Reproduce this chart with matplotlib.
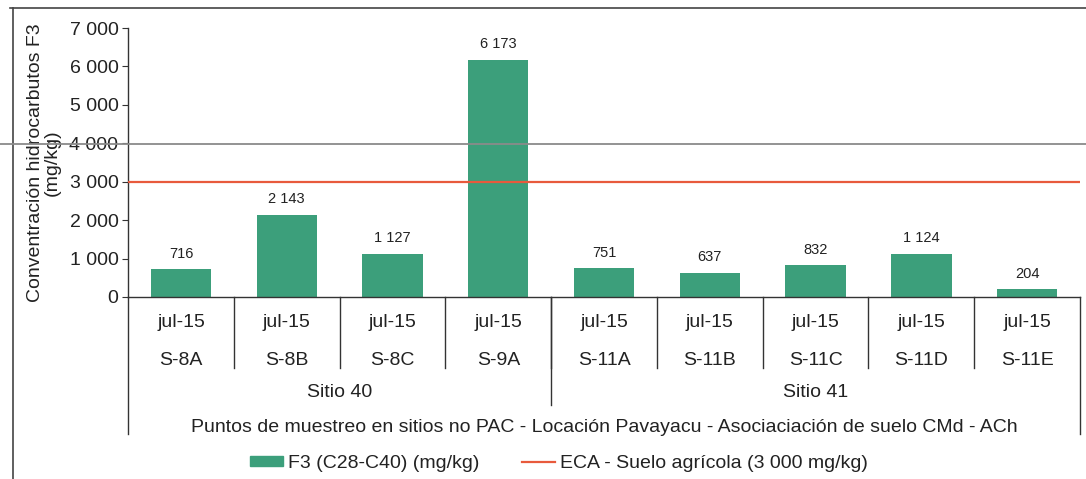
#!/usr/bin/env python3
"""F3 hydrocarbon concentration per sampling point, Pavayacu."""

from matplotlib import pyplot as plt
from matplotlib.lines import Line2D
from matplotlib.patches import Patch
from matplotlib.transforms import blended_transform_factory

DATES = ["jul-15"] * 9
POINTS = ["S-8A", "S-8B", "S-8C", "S-9A", "S-11A", "S-11B", "S-11C", "S-11D", "S-11E"]
VALUES = [716, 2143, 1127, 6173, 751, 637, 832, 1124, 204]
SITES = ["Sitio 40", "Sitio 41"]
SITE_SIZES = [4, 5]
ECA_LIMIT = 3000

BAR_COLOR = "#3c9f7b"
LINE_COLOR = "#e85a3c"
TEXT_COLOR = "#222222"
EDGE = "#333333"
FS = 14


def fmt(v):
    return f"{v:,}".replace(",", " ")


def main():
    plt.rcParams.update({"font.family": ["Liberation Sans", "DejaVu Sans"]})

    fig = plt.figure(figsize=(10.86, 4.79), dpi=100)
    ax = fig.add_axes([0.118, 0.380, 0.8765, 0.5615])

    x = list(range(len(VALUES)))
    ax.bar(x, VALUES, width=0.57, color=BAR_COLOR, zorder=2)
    for xi, v in zip(x, VALUES):
        ax.annotate(fmt(v), (xi, v), xytext=(0, 6), textcoords="offset points",
                    ha="center", va="bottom", fontsize=10.5, color=TEXT_COLOR)

    ax.axhline(ECA_LIMIT, color=LINE_COLOR, linewidth=1.6, zorder=3)

    ax.set_xlim(-0.5, len(VALUES) - 0.5)
    ax.set_ylim(0, 7000)
    ax.set_yticks(range(0, 7001, 1000))
    ax.set_yticklabels([fmt(t) for t in range(0, 7001, 1000)], fontsize=FS, color=TEXT_COLOR)
    ax.tick_params(axis="y", length=4, color=EDGE, pad=3)
    ax.set_xticks([])
    for side in ("top", "right"):
        ax.spines[side].set_visible(False)
    for side in ("left", "bottom"):
        ax.spines[side].set_color(EDGE)
        ax.spines[side].set_linewidth(1.0)

    ax.set_ylabel("Conventración hidrocarbutos F3\n(mg/kg)", fontsize=FS,
                  color=TEXT_COLOR, labelpad=6, linespacing=1.0)

    # multi-level category axis
    trans = blended_transform_factory(ax.transData, ax.transAxes)
    for xi, d, p in zip(x, DATES, POINTS):
        ax.text(xi, -0.094, d, transform=trans, ha="center", va="center", fontsize=FS, color=TEXT_COLOR)
        ax.text(xi, -0.235, p, transform=trans, ha="center", va="center", fontsize=FS, color=TEXT_COLOR)

    line_kw = dict(transform=trans, color=EDGE, linewidth=1.0, clip_on=False)
    for i in range(1, len(VALUES)):
        ax.plot([i - 0.5, i - 0.5], [0, -0.265], **line_kw)
    start = -0.5
    for site, size in zip(SITES, SITE_SIZES):
        ax.text(start + size / 2, -0.355, site, transform=trans, ha="center", va="center",
                fontsize=FS, color=TEXT_COLOR)
        start += size
        if start < len(VALUES) - 0.5:
            ax.plot([start, start], [0, -0.40], **line_kw)
    ax.plot([-0.5, -0.5], [0, -0.51], **line_kw)
    ax.plot([len(VALUES) - 0.5, len(VALUES) - 0.5], [0, -0.51], **line_kw)

    ax.text(0.5, -0.487,
            "Puntos de muestreo en sitios no PAC - Locación Pavayacu - Asociaciación de suelo CMd - ACh",
            transform=ax.transAxes, ha="center", va="center", fontsize=FS, color=TEXT_COLOR)

    handles = [Patch(color=BAR_COLOR), Line2D([0], [0], color=LINE_COLOR, linewidth=1.6)]
    labels = ["F3 (C28-C40) (mg/kg)", "ECA - Suelo agrícola (3 000 mg/kg)"]
    fig.legend(handles, labels, loc="center", bbox_to_anchor=(0.515, 0.033), ncol=2,
               frameon=False, fontsize=FS, handlelength=1.7, handleheight=0.45,
               columnspacing=2.2, handletextpad=0.25, labelcolor=TEXT_COLOR)

    # page frame and scan line
    fig.add_artist(Line2D([0.009, 1.0], [0.983, 0.983], color="#444444", linewidth=1.2))
    fig.add_artist(Line2D([0.012, 0.012], [0.0, 0.983], color="#444444", linewidth=1.2))
    fig.add_artist(Line2D([0.0, 1.0], [0.699, 0.699], color="#8a8a8a", linewidth=1.3, zorder=5))

    fig.savefig("out.png", dpi=100)


if __name__ == "__main__":
    main()
